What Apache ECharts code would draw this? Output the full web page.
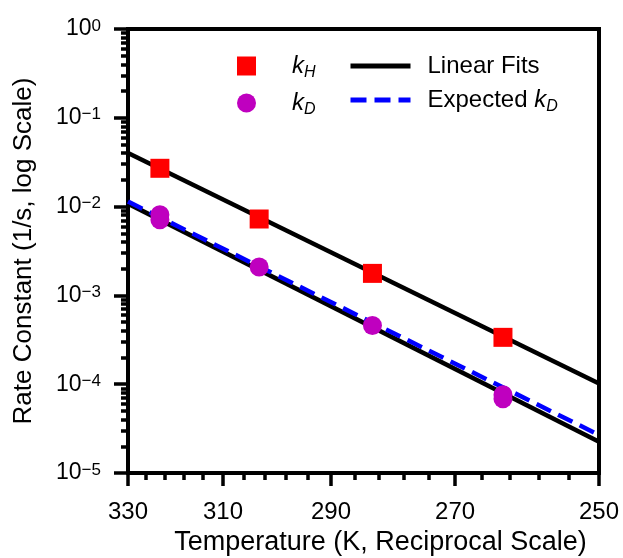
<!DOCTYPE html>
<html><head><meta charset="utf-8">
<script src="https://cdn.jsdelivr.net/npm/echarts@6/dist/echarts.min.js"></script>
<style>html,body{margin:0;padding:0;background:#fff}#c{width:623px;height:558px}</style>
</head><body><div id="c"></div>
<script>
// ---- data ----
const tempTicks = [330, 310, 290, 270, 250];
const tempMinorTicks = [326, 322, 318, 314, 306, 302, 298, 294, 286, 282, 278, 274, 266, 262, 258, 254];
const yMajorTicks = [1e-5, 1e-4, 1e-3, 1e-2, 1e-1, 1];
const yMinorMultipliers = [2, 3, 4, 5, 6, 7, 8, 9];
const kHTemps = [323, 303, 283, 263];
const kHValues = [0.0270, 0.00725, 0.00177, 0.000337];
const kDTemps = [323, 323, 303, 283, 263, 263];
const kDValues = [0.0081, 0.0071, 0.00209, 0.000458, 0.0000759, 0.0000685];
const fitTemps = [330, 250];
const kHFit = [0.0401, 0.000102];
const kDFit = [0.0108, 0.0000225];
const expectedKD = [0.0114, 0.0000268];

// ---- build ----
const FONT = '"Liberation Sans", Arial, sans-serif';
const toX = T => 1000 / T;          // reciprocal temperature scale
const xMin = toX(330), xMax = toX(250);
const yMinorTicks = [];
yMajorTicks.slice(0, -1).forEach(d => yMinorMultipliers.forEach(m => yMinorTicks.push(d * m)));
const pairs = (ts, vs) => ts.map((t, i) => [toX(t), vs[i]]);

const chart = echarts.init(document.getElementById('c'), null, {renderer: 'canvas'});

const legendRich = {
  t: {fontSize: 24, fontFamily: FONT, color: '#000', lineHeight: 30},
  i: {fontSize: 24, fontFamily: FONT, color: '#000', fontStyle: 'italic', lineHeight: 30},
  s: {fontSize: 16, fontFamily: FONT, color: '#000', fontStyle: 'italic', lineHeight: 16, verticalAlign: 'bottom'}
};
const legendFmt = name => {
  if (name === 'kH') return '{i|k}{s|H}';
  if (name === 'kD') return '{i|k}{s|D}';
  if (name === 'Expected kD') return '{t|Expected }{i|k}{s|D}';
  return '{t|' + name + '}';
};

const option = {
  animation: false,
  backgroundColor: '#fff',
  grid: {left: 128, top: 29, width: 471, height: 444, show: true, borderColor: '#000', borderWidth: 4,
         backgroundColor: 'transparent', containLabel: false, outerBoundsMode: 'none'},
  legend: [
    {data: ['kH', 'kD'], orient: 'vertical', left: 237, top: 54, padding: 0, itemWidth: 19, itemHeight: 19, itemGap: 10,
     selectedMode: false, formatter: legendFmt, textStyle: {rich: legendRich, padding: [0, 0, 0, 31]}},
    {data: ['Linear Fits', 'Expected kD'], orient: 'vertical', left: 348, top: 54, padding: 0, itemWidth: 60, itemHeight: 19, itemGap: 10,
     selectedMode: false, formatter: legendFmt, itemStyle: {opacity: 0}, lineStyle: {width: 5},
     textStyle: {rich: legendRich, padding: [0, 0, 0, 12]}}
  ],
  xAxis: [
    {type: 'value', min: xMin, max: xMax, position: 'bottom',
     axisLine: {show: true, lineStyle: {color: '#000', width: 4}},
     axisTick: {show: true, length: 13, lineStyle: {color: '#000', width: 3.5}, customValues: tempTicks.map(toX)},
     axisLabel: {customValues: tempTicks.map(toX), formatter: v => String(Math.round(1000 / v)),
                 fontSize: 24, color: '#000', fontFamily: FONT, margin: 27},
     splitLine: {show: false},
     name: 'Temperature (K, Reciprocal Scale)', nameLocation: 'middle', nameGap: 45,
     nameTextStyle: {fontSize: 27, color: '#000', fontFamily: FONT, padding: [0, 0, 0, 34]}},
    {type: 'value', min: xMin, max: xMax, position: 'bottom',
     axisLine: {show: false},
     axisTick: {show: true, length: 7, lineStyle: {color: '#000', width: 3.5}, customValues: tempMinorTicks.map(toX)},
     axisLabel: {show: false}, splitLine: {show: false}}
  ],
  yAxis: [
    {type: 'log', logBase: 10, min: 1e-5, max: 1, position: 'left',
     axisLine: {show: true, lineStyle: {color: '#000', width: 4}},
     axisTick: {show: true, length: 14, lineStyle: {color: '#000', width: 3.5}, customValues: yMajorTicks},
     axisLabel: {customValues: yMajorTicks, margin: 27,
       formatter: v => {
         const e = Math.round(Math.log10(v));
         return '{b|10}{s|' + (e < 0 ? '\u2212' + (-e) : String(e)) + '}';
       },
       rich: {
         b: {fontSize: 23, fontFamily: FONT, color: '#000', lineHeight: 23, padding: [10, 0, 0, 0], verticalAlign: 'bottom'},
         s: {fontSize: 17, fontFamily: FONT, color: '#000', lineHeight: 17, verticalAlign: 'top'}
       }},
     splitLine: {show: false},
     name: 'Rate Constant (1/s, log Scale)', nameLocation: 'middle', nameGap: 91, nameRotate: 90,
     nameTextStyle: {fontSize: 26, color: '#000', fontFamily: FONT}},
    {type: 'log', logBase: 10, min: 1e-5, max: 1, position: 'left',
     axisLine: {show: false},
     axisTick: {show: true, length: 7, lineStyle: {color: '#000', width: 3.5}, customValues: yMinorTicks},
     axisLabel: {show: false}, splitLine: {show: false}}
  ],
  series: [
    {name: 'Linear Fits', type: 'line', symbol: 'none', data: pairs(fitTemps, kHFit),
     lineStyle: {color: '#000', width: 4.5}, itemStyle: {color: '#000'}, z: 2},
    {name: 'Linear Fits', type: 'line', symbol: 'none', data: pairs(fitTemps, kDFit),
     lineStyle: {color: '#000', width: 4.5}, itemStyle: {color: '#000'}, z: 2},
    {name: 'Expected kD', type: 'line', symbol: 'none', data: pairs(fitTemps, expectedKD),
     lineStyle: {color: '#0000ff', width: 4.5, type: [16, 8]}, itemStyle: {color: '#0000ff'}, z: 3},
    {name: 'kH', type: 'scatter', symbol: 'rect', symbolSize: 19, data: pairs(kHTemps, kHValues),
     itemStyle: {color: '#ff0000', opacity: 1}, z: 5},
    {name: 'kD', type: 'scatter', symbol: 'circle', symbolSize: 19, data: pairs(kDTemps, kDValues),
     itemStyle: {color: '#bf00bf', opacity: 1}, z: 5}
  ]
};
chart.setOption(option);
</script>
</body></html>
